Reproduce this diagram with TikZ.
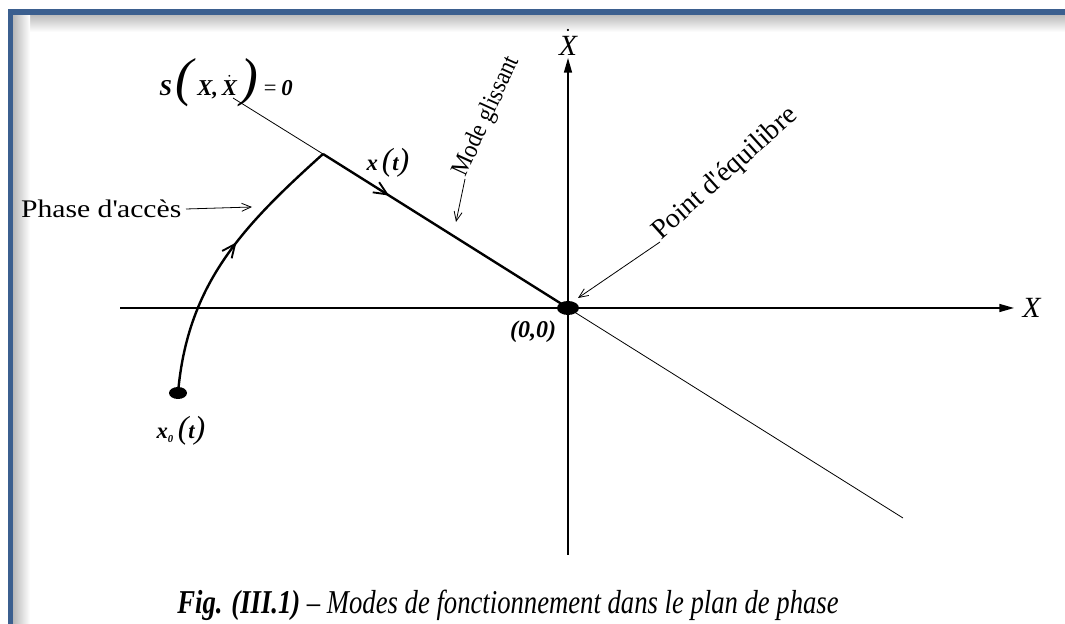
\documentclass[tikz,border=0pt]{standalone}
\usepackage{fontspec}
\setmainfont{Liberation Serif}
\newfontfamily\widefont[FakeStretch=1.17]{Liberation Serif}
\newfontfamily\capfont[FakeStretch=0.8]{Liberation Serif}
\newfontfamily\tallfont[FakeStretch=0.9]{Liberation Serif}
\usetikzlibrary{positioning,arrows.meta,calc,decorations.markings}
\definecolor{frameblue}{RGB}{59,95,143}

\begin{document}
\begin{tikzpicture}[
    x=0.75pt, y=0.75pt,
    axis/.style={line width=1.1pt, -{Triangle[length=11pt,width=6pt]}},
    sline/.style={line width=0.6pt},
    traj/.style={line width=1.8pt},
    lead/.style={line width=0.6pt, -{Straight Barb[length=7pt,width=6pt]}},
    midarrow/.style={postaction={decorate}, decoration={markings,
        mark=at position #1 with {\arrow{Straight Barb[length=10pt,width=9pt,line width=1.4pt]}}}},
    lbl/.style={font=\fontsize{19}{22}\selectfont},
    mth/.style={font=\fontsize{17}{20}\selectfont\bfseries\itshape},
]
\useasboundingbox (0,0) rectangle (1065,624);
\clip (0,0) rectangle (1065,624);
\shade[top color=black!28, bottom color=white] (13,592) rectangle (1065,610);
\shade[left color=black!28, right color=white] (13,0) rectangle (30,610);
\draw[frameblue, line width=4pt] (10.5,-30) |- (1100,612);

\coordinate (O) at (568,316);
\coordinate (P) at (323,470);
\coordinate (sa) at (233,526);
\coordinate (sb) at (903,106);
\coordinate (xl) at (120,316);
\coordinate (xr) at (1014,316);
\coordinate (yb) at (568,69);
\coordinate (yt) at (568,566);
\coordinate (x0) at (178,231);

\draw[axis] (xl) -- (xr);
\draw[axis] (yb) -- (yt);
\node[font=\fontsize{22}{24}\selectfont, right=3pt of xr] (xlab) {\itshape X};
\node[font=\fontsize{22}{24}\selectfont, above=1pt of yt, inner sep=1pt] (ylab) {$\dot{\mbox{\itshape X}}$};

\draw[sline] (sa) -- (P);
\draw[sline] (O) -- (sb);
\draw[traj, midarrow=0.27] (P) -- (O);
\draw[traj, midarrow=0.57] (x0) to[out=85, in=222] (P);
\fill (O) ellipse (11 and 7);
\fill (x0) ellipse (9 and 6);

\node[mth] (slab) at (226,541) {S\,{\mdseries\fontsize{40}{40}\selectfont(}\,X,\,$\dot{\mbox{\bfseries\itshape X}}$\,{\mdseries\fontsize{40}{40}\selectfont)}\,{\mdseries=}\,0};
\node[mth] (xtlab) at (388,461) {x\,{\mdseries\fontsize{24}{24}\selectfont(}t{\mdseries\fontsize{24}{24}\selectfont)}};
\node[mth] (x0lab) at (181,193) {x$_{\mbox{\footnotesize\bfseries\itshape 0}}$\,{\mdseries\fontsize{24}{24}\selectfont(}t{\mdseries\fontsize{24}{24}\selectfont)}};
\node[mth, font=\fontsize{18}{20}\selectfont\bfseries\itshape] (olab) at (533,292) {(0,0)};

\node[lbl, anchor=east] (phase) at (186,415) {\widefont Phase d\textquotesingle accès};
\coordinate (phtip) at (252,417);
\draw[lead] (phase.east) -- (phtip);

\node[lbl, rotate=65.5, anchor=base west, inner sep=1pt] (mg) at (465,445) {\tallfont Mode glissant};
\coordinate (mgtip) at (456,402);
\draw[lead] (mg.base west) -- (mgtip);

\node[lbl, font=\fontsize{21}{24}\selectfont, rotate=42, anchor=base west, inner sep=1pt] (pe) at (660,382) {Point d\textquotesingle équilibre};
\coordinate (petip) at (578,326);
\draw[lead] (pe.base west) -- (petip);

\node[font=\capfont\fontsize{25}{28}\selectfont] (cap) at (508,19)
    {\bfseries\itshape Fig. (III.1) \mdseries\textendash\ Modes de fonctionnement dans le plan de phase};
\end{tikzpicture}
\end{document}
